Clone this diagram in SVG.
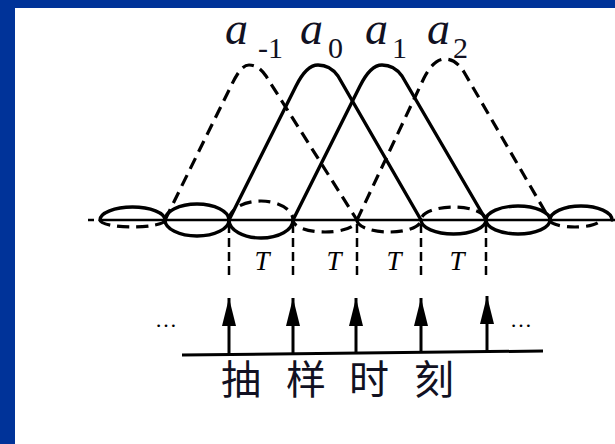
<svg xmlns="http://www.w3.org/2000/svg" width="615" height="444" viewBox="0 0 615 444">
<style>
.solid{fill:none;stroke:#000;stroke-width:3.4;stroke-linejoin:round;stroke-linecap:round}
.dash{fill:none;stroke:#000;stroke-width:3.2;stroke-dasharray:12 7}
.vdash{fill:none;stroke:#000;stroke-width:2.5;stroke-dasharray:9 5}
.lab{font-family:"Liberation Serif",serif;font-style:italic;fill:#111122}
.sub{font-family:"Liberation Serif",serif;fill:#111122}
.cjk{font-family:"Liberation Serif","Noto Sans CJK SC",sans-serif;font-size:40px;fill:#111122;text-anchor:middle}
.tl{font-family:"Liberation Serif",serif;font-style:italic;font-size:27px;fill:#000;text-anchor:middle}
</style>
<defs>
<marker id="ah" markerUnits="userSpaceOnUse" markerWidth="30" markerHeight="16" viewBox="0 -8 30 16" refX="28" refY="0" orient="auto">
<path d="M0,-7 L28,0 L0,7 Z" fill="#000"/>
</marker>
</defs>
<rect x="0" y="0" width="615" height="444" fill="#003399"/>
<rect x="15" y="8" width="600" height="436" fill="#fff"/>

<g id="axis">
<line x1="100" y1="220" x2="615" y2="220" stroke="#000" stroke-width="2.5"/>
<line x1="88" y1="220" x2="94" y2="220" stroke="#000" stroke-width="2.5"/>
</g>

<g id="pulse-a-1">
<path class="dash" d="M165,220 L232,84 C238,72 243,65 249,65 C256,65 261,69 266,76 L357,220"/>
<path class="dash" d="M100,220 A32.5,7 0 0 0 165,220"/>
<path class="dash" d="M357,220 A32,12 0 0 0 421,220 A32.5,13 0 0 1 486,220"/>
</g>
<g id="pulse-a0">
<path class="solid" d="M229,220 L296,86 C303,72 310,65 318,65 C326,65 333,69 338,76 L421,220"/>
<path class="solid" d="M100,220 A32.5,13 0 0 1 165,220 A32,16 0 0 0 229,220"/>
<path class="solid" d="M421,220 A32.5,14 0 0 0 486,220 A32,14 0 0 1 550,220"/>
</g>
<g id="pulse-a1">
<path class="solid" d="M293,220 L360,86 C367,72 374,65 382,65 C390,65 397,69 402,76 L486,220"/>
<path class="solid" d="M165,220 A32,16 0 0 1 229,220 A32,18 0 0 0 293,220"/>
<path class="solid" d="M486,220 A32,14 0 0 0 550,220 A31,14 0 0 1 612,220"/>
</g>
<g id="pulse-a2">
<path class="dash" d="M357,220 L424,78 C430,66 437,59 445,59 C453,59 459,64 464,72 L550,220"/>
<path class="dash" d="M229,220 A32,19 0 0 1 293,220 A32,12 0 0 0 357,220"/>
<path class="dash" d="M550,220 A25,7 0 0 0 600,220"/>
</g>

<g id="labels">
<text class="lab" x="225" y="44" font-size="46">a</text>
<text class="sub" x="258" y="58" font-size="30">-1</text>
<text class="lab" x="300" y="44" font-size="46">a</text>
<text class="sub" x="328" y="58" font-size="30">0</text>
<text class="lab" x="365" y="44" font-size="46">a</text>
<text class="sub" x="392" y="58" font-size="30">1</text>
<text class="lab" x="427" y="44" font-size="46">a</text>
<text class="sub" x="453" y="58" font-size="30">2</text>
</g>

<g id="connectors">
<line class="vdash" x1="229" y1="224" x2="229" y2="277"/>
<line class="vdash" x1="293" y1="224" x2="293" y2="277"/>
<line class="vdash" x1="357" y1="224" x2="357" y2="277"/>
<line class="vdash" x1="421" y1="224" x2="421" y2="277"/>
<line class="vdash" x1="486" y1="224" x2="486" y2="277"/>
<line x1="229" y1="354" x2="229" y2="298" stroke="#000" stroke-width="3" marker-end="url(#ah)"/>
<line x1="293" y1="353" x2="293" y2="298" stroke="#000" stroke-width="3" marker-end="url(#ah)"/>
<line x1="356" y1="353" x2="356" y2="298" stroke="#000" stroke-width="3" marker-end="url(#ah)"/>
<line x1="421" y1="352" x2="421" y2="298" stroke="#000" stroke-width="3" marker-end="url(#ah)"/>
<line x1="487" y1="351" x2="487" y2="296" stroke="#000" stroke-width="3" marker-end="url(#ah)"/>
</g>

<g id="T-labels">
<text class="tl" x="262" y="270">T</text>
<text class="tl" x="334" y="270">T</text>
<text class="tl" x="394" y="270">T</text>
<text class="tl" x="457" y="270">T</text>
</g>

<g id="sampling-axis">
<line x1="182" y1="355" x2="543" y2="351" stroke="#000" stroke-width="3"/>
<text x="155" y="327" font-family="Liberation Serif,serif" font-size="22" fill="#000">…</text>
<text x="510" y="327" font-family="Liberation Serif,serif" font-size="22" fill="#000">…</text>
</g>

<g id="caption">
<text class="cjk" x="241" y="394">抽</text>
<text class="cjk" x="306" y="394">样</text>
<text class="cjk" x="369" y="394">时</text>
<text class="cjk" x="434" y="394">刻</text>
</g>
</svg>
